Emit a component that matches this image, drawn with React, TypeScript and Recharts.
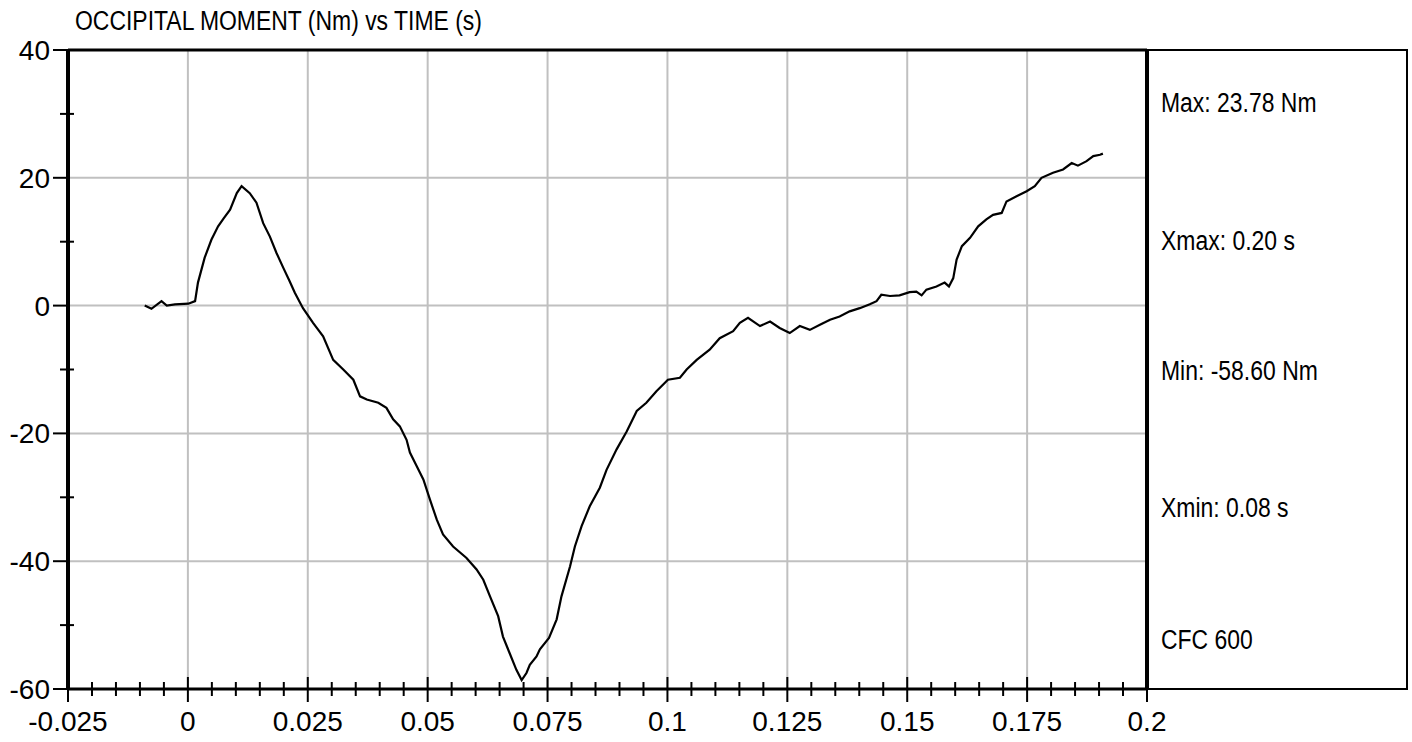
import { LineChart, Line, XAxis, YAxis, ReferenceLine } from "recharts";

// time (s) and occipital moment (Nm)
const timeValues = [
  -0.009, -0.0076, -0.0055, -0.0044, -0.0027, 0.0001, 0.0015, 0.0021, 0.0035, 0.0049,
  0.0063, 0.0075, 0.0088, 0.0102, 0.0112, 0.0129, 0.0143, 0.0157, 0.0171, 0.0185,
  0.0199, 0.0211, 0.0223, 0.024, 0.0261, 0.0282, 0.0303, 0.0324, 0.0345, 0.0359,
  0.0373, 0.0397, 0.0414, 0.0428, 0.0442, 0.0456, 0.0463, 0.0477, 0.0491, 0.0505,
  0.0519, 0.0532, 0.0553, 0.0581, 0.0602, 0.0616, 0.063, 0.0647, 0.0657, 0.0671,
  0.0685, 0.0696, 0.0706, 0.0713, 0.0727, 0.0734, 0.0753, 0.0769, 0.0779, 0.0797,
  0.0807, 0.0821, 0.0838, 0.0859, 0.0873, 0.0894, 0.0915, 0.0936, 0.0956, 0.0977,
  0.1001, 0.1026, 0.104, 0.1061, 0.1088, 0.1109, 0.1137, 0.1151, 0.1168, 0.1193,
  0.1214, 0.1234, 0.1255, 0.1276, 0.1297, 0.1318, 0.1339, 0.1359, 0.138, 0.1401,
  0.1422, 0.1436, 0.1446, 0.1464, 0.1484, 0.1505, 0.1519, 0.153, 0.154, 0.1561,
  0.1578, 0.1587, 0.1596, 0.1603, 0.1614, 0.1631, 0.1648, 0.1665, 0.1679, 0.1697,
  0.1707, 0.1728, 0.1749, 0.1766, 0.178, 0.1804, 0.1825, 0.1843, 0.1856, 0.1874,
  0.1888, 0.1902, 0.1908,
];
const momentValues = [
  0, -0.5, 0.7, 0, 0.2, 0.3, 0.7, 3.6, 7.5, 10.3,
  12.4, 13.7, 15, 17.6, 18.7, 17.6, 16.1, 12.9, 10.8, 8.2,
  5.9, 4, 2, -0.4, -2.7, -4.8, -8.5, -10, -11.6, -14.2,
  -14.7, -15.2, -16, -17.8, -18.9, -21, -23, -25.1, -27.2, -30.4,
  -33.5, -35.8, -37.7, -39.5, -41.3, -42.9, -45.5, -48.6, -51.8, -54.4,
  -57, -58.6, -57.5, -56.2, -54.9, -53.8, -52, -49.1, -45.5, -40.8,
  -37.7, -34.5, -31.4, -28.5, -25.7, -22.5, -19.7, -16.5, -15.2, -13.4,
  -11.6, -11.3, -10, -8.5, -6.9, -5.1, -4, -2.7, -1.9, -3.2,
  -2.5, -3.5, -4.3, -3.2, -3.8, -3, -2.2, -1.7, -0.9, -0.4,
  0.2, 0.7, 1.7, 1.5, 1.6, 2.1, 2.2, 1.6, 2.5, 3,
  3.6, 3, 4.3, 7.2, 9.3, 10.6, 12.4, 13.5, 14.2, 14.5,
  16.3, 17.1, 17.9, 18.7, 20, 20.8, 21.3, 22.3, 21.9, 22.6,
  23.4, 23.6, 23.78,
];

const xMajorTicks = [-0.025, 0, 0.025, 0.05, 0.075, 0.1, 0.125, 0.15, 0.175, 0.2];
const xTickLabels = ["-0.025", "0", "0.025", "0.05", "0.075", "0.1", "0.125", "0.15", "0.175", "0.2"];
const yMajorTicks = [-60, -40, -20, 0, 20, 40];
const yTickLabels = ["-60", "-40", "-20", "0", "20", "40"];
const xGrid = [0, 0.025, 0.05, 0.075, 0.1, 0.125, 0.15, 0.175];
const yGrid = [-40, -20, 0, 20];

const title = "OCCIPITAL MOMENT (Nm) vs TIME (s)";
const statLines = ["Max: 23.78 Nm", "Xmax: 0.20 s", "Min: -58.60 Nm", "Xmin: 0.08 s", "CFC 600"];

const data = timeValues.map((t, i) => ({ t, m: momentValues[i] }));

// 4 minor ticks between majors
const xTicks: number[] = [];
xMajorTicks.forEach((v, i) => {
  xTicks.push(v);
  if (i < xMajorTicks.length - 1) {
    const step = (xMajorTicks[i + 1] - v) / 5;
    for (let k = 1; k < 5; k++) xTicks.push(Math.round((v + k * step) * 10000) / 10000);
  }
});
const yTicks: number[] = [];
yMajorTicks.forEach((v, i) => {
  yTicks.push(v);
  if (i < yMajorTicks.length - 1) yTicks.push((v + yMajorTicks[i + 1]) / 2);
});

const W = 1412;
const H = 742;
const tickFont = "'Liberation Sans', Arial, sans-serif";

// no narrow face installed, so squeeze Liberation Sans horizontally
function NarrowText({ x, y, children }: { x: number; y: number; children: string }) {
  return (
    <text
      transform={`translate(${x},${y}) scale(0.85,1)`}
      fontSize={27}
      fontFamily={tickFont}
      fill="#000"
    >
      {children}
    </text>
  );
}

function XTick(props: any) {
  const { x, y, payload } = props;
  const idx = xMajorTicks.findIndex((v) => Math.abs(v - payload.value) < 1e-6);
  if (idx < 0) {
    return <line x1={x} x2={x} y1={y - 7} y2={y + 7} stroke="#000" strokeWidth={2} />;
  }
  return (
    <g>
      <line x1={x} x2={x} y1={y - 12} y2={y + 13} stroke="#000" strokeWidth={2} />
      <text x={x} y={y + 42} textAnchor="middle" fontSize={28} fontFamily={tickFont} fill="#000">
        {xTickLabels[idx]}
      </text>
    </g>
  );
}

function YTick(props: any) {
  const { x, y, payload } = props;
  const idx = yMajorTicks.indexOf(payload.value);
  if (idx < 0) {
    return <line x1={x - 8} x2={x + 6} y1={y} y2={y} stroke="#000" strokeWidth={2} />;
  }
  return (
    <g>
      <line x1={x - 15} x2={x} y1={y} y2={y} stroke="#000" strokeWidth={2} />
      <text x={x - 18} y={y + 10} textAnchor="end" fontSize={28} fontFamily={tickFont} fill="#000">
        {yTickLabels[idx]}
      </text>
    </g>
  );
}

export default function App() {
  return (
    <div style={{ position: "absolute", left: 0, top: 0, width: W, height: H, background: "#fff" }}>
      <LineChart width={W} height={H} data={data} margin={{ top: 50, right: 265, bottom: 0, left: 0 }}>
        <XAxis
          dataKey="t"
          type="number"
          domain={[-0.025, 0.2]}
          ticks={xTicks}
          interval={0}
          tickSize={0}
          tickMargin={0}
          height={53}
          axisLine={{ stroke: "#000", strokeWidth: 3 }}
          tick={(p: any) => <XTick {...p} />}
          allowDataOverflow
        />
        <YAxis
          type="number"
          domain={[-60, 40]}
          ticks={yTicks}
          interval={0}
          tickSize={0}
          tickMargin={0}
          width={68}
          axisLine={{ stroke: "#000", strokeWidth: 4 }}
          tick={(p: any) => <YTick {...p} />}
          allowDataOverflow
        />
        {xGrid.map((v) => (
          <ReferenceLine key={"gx" + v} x={v} stroke="#c0c0c0" strokeWidth={2} />
        ))}
        {yGrid.map((v) => (
          <ReferenceLine key={"gy" + v} y={v} stroke="#c0c0c0" strokeWidth={2} />
        ))}
        <ReferenceLine y={40} stroke="#000" strokeWidth={3} />
        <ReferenceLine x={0.2} stroke="#000" strokeWidth={4} />
        <Line
          dataKey="m"
          type="linear"
          stroke="#000"
          strokeWidth={2.2}
          dot={false}
          activeDot={false}
          isAnimationActive={false}
        />
      </LineChart>
      <svg width={W} height={H} style={{ position: "absolute", left: 0, top: 0, pointerEvents: "none" }}>
        <NarrowText x={75} y={30}>{title}</NarrowText>
        <rect x={1147} y={50} width={260} height={639} fill="none" stroke="#000" strokeWidth={2} />
        {statLines.map((s, i) => (
          <NarrowText key={s} x={1161} y={[112, 250, 380, 517, 649][i]}>
            {s}
          </NarrowText>
        ))}
      </svg>
    </div>
  );
}
